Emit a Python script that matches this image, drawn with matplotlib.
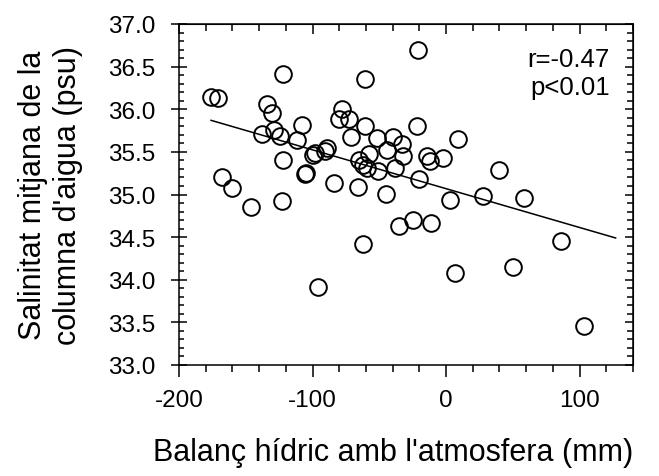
import matplotlib
matplotlib.use("Agg")
import matplotlib.pyplot as plt
from matplotlib.ticker import MultipleLocator, FixedLocator, FormatStrFormatter

# Data
balance_mm = [-176, -171, -168, -160, -146, -138, -134, -130, -129, -124,
              -123, -122, -122, -112, -108, -106, -105, -100, -98, -96,
              -91, -89, -84, -80, -78, -73, -71, -66, -65, -62,
              -62, -61, -61, -59, -58, -52, -51, -45, -44, -40,
              -38, -35, -33, -32, -25, -22, -21, -20, -14, -12,
              -11, -2, 3, 7, 9, 28, 40, 50, 58, 86, 103]
salinity_psu = [36.14, 36.13, 35.21, 35.08, 34.85, 35.71, 36.06, 35.96, 35.76, 35.69,
                34.92, 36.41, 35.41, 35.64, 35.81, 35.24, 35.25, 35.46, 35.49, 33.92,
                35.51, 35.55, 35.14, 35.88, 36.00, 35.88, 35.68, 35.09, 35.41, 35.35,
                34.42, 35.80, 36.35, 35.31, 35.48, 35.66, 35.27, 35.01, 35.52, 35.67,
                35.31, 34.63, 35.59, 35.45, 34.70, 35.80, 36.69, 35.18, 35.45, 35.39,
                34.67, 35.43, 34.93, 34.08, 35.65, 34.98, 35.29, 34.15, 34.96, 34.46, 33.46]
fit_x = [-176, 127]
fit_y = [35.87, 34.49]
x_ticks = [-200, -100, 0, 100]
stats_text = "r=-0.47\np<0.01"
x_label = "Balanç hídric amb l'atmosfera (mm)"
y_label = "Salinitat mitjana de la\ncolumna d'aigua (psu)"

plt.rcParams['font.family'] = ['Liberation Sans', 'DejaVu Sans']
plt.rcParams['axes.unicode_minus'] = False
fig = plt.figure(figsize=(6.59, 4.77), dpi=100)
ax = fig.add_axes([179/659, 1-366/477, (633-179)/659, (366-25)/477])

ax.plot(balance_mm, salinity_psu, linestyle='none', marker='o', ms=12,
        mfc='none', mec='black', mew=1.4)
ax.plot(fit_x, fit_y, color='black', lw=1.1)

ax.set_xlim(-200, 140)
ax.set_ylim(33.0, 37.0)
for s in ax.spines.values():
    s.set_linewidth(1.1)

ax.xaxis.set_major_locator(FixedLocator(x_ticks))
ax.xaxis.set_minor_locator(MultipleLocator(20))
ax.yaxis.set_major_locator(MultipleLocator(0.5))
ax.yaxis.set_minor_locator(MultipleLocator(0.1))
ax.yaxis.set_major_formatter(FormatStrFormatter('%.1f'))

ax.tick_params(axis='x', which='major', direction='out', length=8.6, width=1.1,
               labelsize=17.5, pad=9)
ax.tick_params(axis='x', which='minor', direction='out', length=5, width=1.1)
ax.tick_params(axis='y', which='major', direction='inout', length=11.5, width=1.1,
               labelsize=17.5, pad=11)
ax.tick_params(axis='y', which='minor', direction='in', length=3.6, width=1.1)

top = ax.secondary_xaxis('top')
top.xaxis.set_major_locator(FixedLocator(x_ticks))
top.xaxis.set_minor_locator(MultipleLocator(20))
top.tick_params(which='major', direction='in', length=7.2, width=1.1, labeltop=False)
top.tick_params(which='minor', direction='in', length=5, width=1.1)
right = ax.secondary_yaxis('right')
right.yaxis.set_major_locator(MultipleLocator(0.5))
right.yaxis.set_minor_locator(MultipleLocator(0.1))
right.tick_params(which='major', direction='in', length=5.8, width=1.1, labelright=False)
right.tick_params(which='minor', direction='in', length=4.3, width=1.1)

ax.set_xlabel(x_label, fontsize=22)
ax.xaxis.set_label_coords(0.4725, -0.2097)
ax.set_ylabel(y_label, fontsize=22, linespacing=1.22)
ax.yaxis.set_label_coords(-0.2106, 0.5)

ax.text(0.949, 0.9326, stats_text, transform=ax.transAxes, ha='right', va='top',
        fontsize=18.5, linespacing=1.23)

fig.savefig("out.png", dpi=100)
